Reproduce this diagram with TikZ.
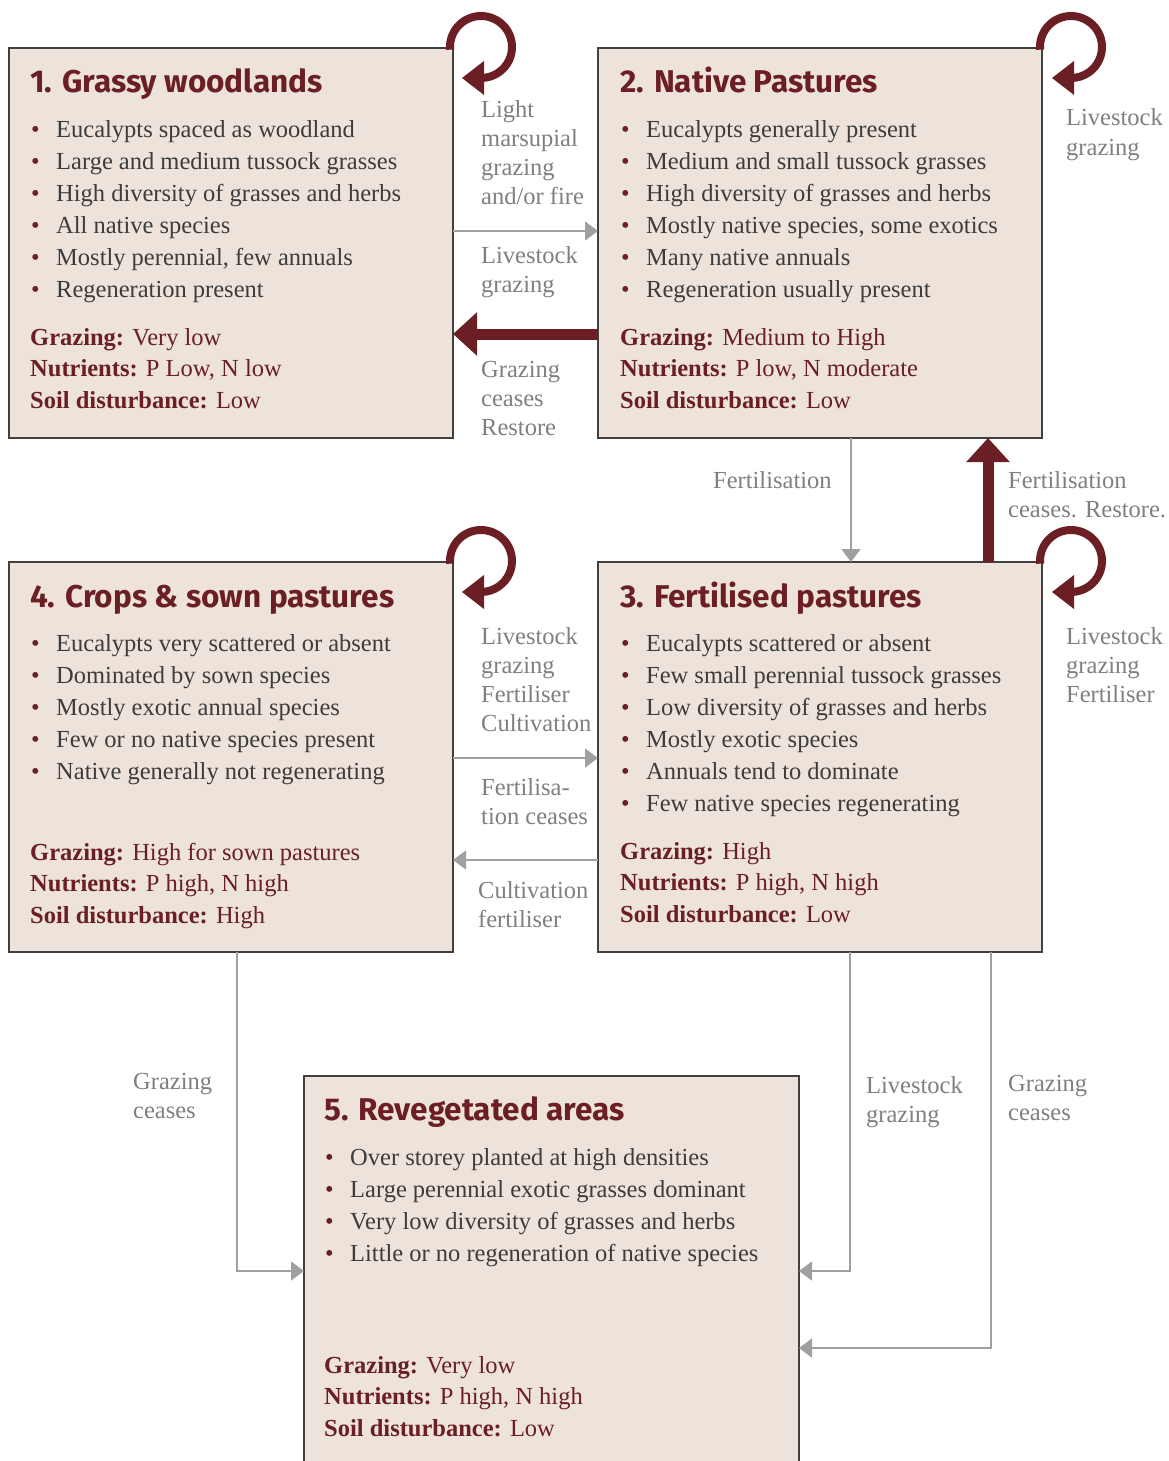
\documentclass[tikz,border=0pt]{standalone}
\usepackage{fontspec}
\setmainfont{Liberation Serif}
\newfontfamily\titlefont{Fira Sans}
\usetikzlibrary{arrows.meta}
\definecolor{boxfill}{HTML}{EDE3DB}
\definecolor{dred}{HTML}{6B1F24}
\definecolor{bodytxt}{HTML}{3C3C3C}
\definecolor{lbl}{HTML}{7F7F7F}
\definecolor{garrow}{HTML}{A0A0A0}
\definecolor{bord}{HTML}{404040}
\newcommand\bul{\makebox[25pt][l]{\textcolor{dred}{\textbullet}}}
\begin{document}
\begin{tikzpicture}[x=1pt,y=1pt,
 stbox/.style={draw=bord, line width=1.5pt, fill=boxfill, inner sep=0, outer sep=0, anchor=north west, minimum width=444, minimum height=390},
 ttl/.style={anchor=base west, inner sep=0, text=dred, font=\titlefont\bfseries\fontsize{31.5}{36}\selectfont},
 lst/.style={anchor=base west, inner sep=0, text=bodytxt, align=left, font=\fontsize{24.5}{32}\selectfont},
 props/.style={anchor=base west, inner sep=0, text=dred, align=left, font=\fontsize{24.5}{31.5}\selectfont},
 lbltxt/.style={anchor=base west, inner sep=0, text=lbl, align=left, font=\fontsize{24.5}{29}\selectfont},
 smallarrow/.style={draw=garrow, line width=1.5pt, -{Triangle[length=13pt,width=19pt]}},
 bigarrow/.style={draw=dred, line width=11pt, -{Triangle[length=24pt,width=42pt]}},
 loopy/.style={draw=dred, line width=8pt},
]
\useasboundingbox (0,0) rectangle (1169,-1461);

% boxes
\node[stbox] (b1) at (9,-48) {};
\node[stbox] (b2) at (598,-48) {};
\node[stbox] (b4) at (9,-562) {};
\node[stbox] (b3) at (598,-562) {};
\node[fill=boxfill, inner sep=0, outer sep=0, anchor=north west, minimum width=495, minimum height=400] (b5) at (304,-1076) {};
\draw[draw=bord, line width=1.5pt] (b5.south west) -- (b5.north west) -- (b5.north east) -- (b5.south east);

% (multi-line nodes are placed by the baseline of their last line)
% box 1
\node[ttl] (t1) at (30,-93) {1. Grassy woodlands};
\node[lst] (l1) at (31,-297) {\bul Eucalypts spaced as woodland\\ \bul Large and medium tussock grasses\\ \bul High diversity of grasses and herbs\\ \bul All native species\\ \bul Mostly perennial, few annuals\\ \bul Regeneration present};
\node[props] (p1) at (30,-408) {\textbf{Grazing:} Very low\\ \textbf{Nutrients:} P Low, N low\\ \textbf{Soil disturbance:} Low};

% box 2
\node[ttl] (t2) at (620,-93) {2. Native Pastures};
\node[lst] (l2) at (621,-297) {\bul Eucalypts generally present\\ \bul Medium and small tussock grasses\\ \bul High diversity of grasses and herbs\\ \bul Mostly native species, some exotics\\ \bul Many native annuals\\ \bul Regeneration usually present};
\node[props] (p2) at (620,-408) {\textbf{Grazing:} Medium to High\\ \textbf{Nutrients:} P low, N moderate\\ \textbf{Soil disturbance:} Low};

% box 4
\node[ttl] (t4) at (30,-607) {4. Crops \& sown pastures};
\node[lst] (l4) at (31,-779) {\bul Eucalypts very scattered or absent\\ \bul Dominated by sown species\\ \bul Mostly exotic annual species\\ \bul Few or no native species present\\ \bul Native generally not regenerating};
\node[props] (p4) at (30,-923) {\textbf{Grazing:} High for sown pastures\\ \textbf{Nutrients:} P high, N high\\ \textbf{Soil disturbance:} High};

% box 3
\node[ttl] (t3) at (620,-607) {3. Fertilised pastures};
\node[lst] (l3) at (621,-811) {\bul Eucalypts scattered or absent\\ \bul Few small perennial tussock grasses\\ \bul Low diversity of grasses and herbs\\ \bul Mostly exotic species\\ \bul Annuals tend to dominate\\ \bul Few native species regenerating};
\node[props] (p3) at (620,-922) {\textbf{Grazing:} High\\ \textbf{Nutrients:} P high, N high\\ \textbf{Soil disturbance:} Low};

% box 5
\node[ttl] (t5) at (324,-1120) {5. Revegetated areas};
\node[lst] (l5) at (325,-1261) {\bul Over storey planted at high densities\\ \bul Large perennial exotic grasses dominant\\ \bul Very low diversity of grasses and herbs\\ \bul Little or no regeneration of native species};
\node[props] (p5) at (324,-1436) {\textbf{Grazing:} Very low\\ \textbf{Nutrients:} P high, N high\\ \textbf{Soil disturbance:} Low};

% helper coordinates
\coordinate (h231) at (0,-231);
\coordinate (h334) at (0,-334);
\coordinate (h758) at (0,-758);
\coordinate (h860) at (0,-860);
\coordinate (h1271) at (0,-1271);
\coordinate (h1348) at (0,-1348);
\coordinate (v851) at (851,0);
\coordinate (v988) at (988,0);
\coordinate (v237) at (237,0);
\coordinate (v850) at (850,0);
\coordinate (v991) at (991,0);

% connectors
\draw[smallarrow] (b1.east |- h231) -- (b2.west |- h231);
\draw[bigarrow] (b2.west |- h334) -- (b1.east |- h334);
\draw[smallarrow] (b2.south -| v851) -- (b3.north -| v851);
\draw[bigarrow] (b3.north -| v988) -- (b2.south -| v988);
\draw[smallarrow] (b4.east |- h758) -- (b3.west |- h758);
\draw[smallarrow] (b3.west |- h860) -- (b4.east |- h860);
\draw[smallarrow] (b4.south -| v237) |- (b5.west |- h1271);
\draw[smallarrow] (b3.south -| v850) |- (b5.east |- h1271);
\draw[smallarrow] (b3.south -| v991) |- (b5.east |- h1348);

% self loops
\foreach \cx/\cy [count=\i] in {481/47, 1071/47, 481/561, 1071/561} {
  \coordinate (lc\i) at (\cx,-\cy);
  \draw[loopy] (lc\i) ++(185:31) arc[start angle=185, end angle=-90, radius=31];
  \fill[dred] (lc\i) ++(-19,-31) -- ++(22,17) -- ++(0,-34) -- cycle;
}

% labels
\node[lbltxt] (a1) at (481,-204) {Light\\marsupial\\grazing\\and/or fire};
\node[lbltxt] (a2) at (481,-292) {Livestock\\grazing};
\node[lbltxt] (a3) at (481,-435) {Grazing\\ceases\\Restore};
\node[lbltxt] (a4) at (1066,-155) {Livestock\\grazing};
\node[lbltxt] (a5) at (713,-488) {Fertilisation};
\node[lbltxt] (a6) at (1008,-517) {Fertilisation\\ceases. Restore.};
\node[lbltxt] (a7) at (481,-731) {Livestock\\grazing\\Fertiliser\\Cultivation};
\node[lbltxt] (a8) at (1066,-702) {Livestock\\grazing\\Fertiliser};
\node[lbltxt] (a9) at (481,-824) {Fertilisa-\\tion ceases};
\node[lbltxt] (a10) at (478,-927) {Cultivation\\fertiliser};
\node[lbltxt] (a11) at (133,-1118) {Grazing\\ceases};
\node[lbltxt] (a12) at (866,-1122) {Livestock\\grazing};
\node[lbltxt] (a13) at (1008,-1120) {Grazing\\ceases};
\end{tikzpicture}
\end{document}
